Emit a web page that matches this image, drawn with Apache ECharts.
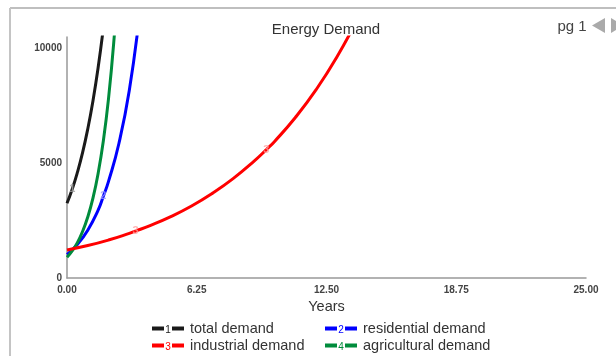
<!DOCTYPE html>
<html>
<head>
<meta charset="utf-8">
<script src="https://cdn.jsdelivr.net/npm/echarts@6/dist/echarts.min.js"></script>
<style>
html,body{margin:0;padding:0;background:#fff;}
#chart{width:616px;height:356px;}
</style>
</head>
<body>
<div id="chart"></div>
<script>
// ---- data ----
var chartTitle = 'Energy Demand';
var xAxisTitle = 'Years';
var seriesNames = ['total demand', 'residential demand', 'industrial demand', 'agricultural demand'];
var seriesNumbers = ['1', '2', '3', '4'];
var seriesColors = ['#1a1a1a', '#0000ff', '#ff0000', '#008c3c'];
var xTicks = [0, 6.25, 12.5, 18.75, 25];
var yTicks = [0, 5000, 10000];

var totalYears  = [0, 0.25, 0.5, 0.75, 1.0, 1.25, 1.5, 1.75];
var totalDemand = [3250, 3860, 4590, 5450, 6480, 7700, 9150, 10870];

var residentialYears  = [0, 0.5, 1.0, 1.5, 1.75, 2.0, 2.5, 3.0, 3.5];
var residentialDemand = [1020, 1460, 2080, 2950, 3550, 4200, 5850, 8150, 11500];

var industrialYears  = [0, 1, 2, 3, 3.3, 4, 5, 6, 7, 8, 9, 9.6, 10, 11, 12, 13, 14];
var industrialDemand = [1220, 1410, 1650, 1940, 2040, 2280, 2670, 3130, 3680, 4320, 5070, 5580, 5940, 6980, 8190, 9610, 11270];

var agriculturalYears  = [0, 0.25, 0.5, 0.75, 1.0, 1.25, 1.5, 1.75, 2.0, 2.25, 2.5];
var agriculturalDemand = [900, 1180, 1540, 2020, 2650, 3470, 4550, 5960, 7800, 10220, 13390];

// curve number labels: [series index, year]
var curveLabels = [[0, 0.25], [1, 1.75], [2, 3.3], [2, 9.6]];
var labelColors = ['#a0a0a0', '#9a9aff', '#ffa0a0', '#80d0a0'];

var allYears = [totalYears, residentialYears, industrialYears, agriculturalYears];
var allValues = [totalDemand, residentialDemand, industrialDemand, agriculturalDemand];

function pairs(xs, ys) { return xs.map(function (x, i) { return [x, ys[i]]; }); }

var font = 'Liberation Sans, Arial, sans-serif';

var series = seriesNames.map(function (name, si) {
  return {
    name: name,
    type: 'line',
    smooth: true,
    symbol: 'none',
    clip: true,
    data: pairs(allYears[si], allValues[si]),
    lineStyle: { color: seriesColors[si], width: 3 },
    itemStyle: { color: seriesColors[si] },
    z: si === 2 ? 3 : 2
  };
});

// number labels sitting on the curves
series.push({
  name: 'curve numbers',
  type: 'scatter',
  z: 10,
  symbolSize: 1,
  silent: true,
  itemStyle: { color: 'rgba(0,0,0,0)' },
  data: curveLabels.map(function (c) {
    var si = c[0];
    var idx = allYears[si].indexOf(c[1]);
    return {
      value: [c[1], allValues[si][idx]],
      label: { show: true, position: 'inside', formatter: seriesNumbers[si], color: labelColors[si],
        fontSize: 11, fontFamily: font, fontWeight: 'bold' }
    };
  })
});

var chart = echarts.init(document.getElementById('chart'), null, { renderer: 'canvas' });

var graphics = [
  { type: 'line', shape: { x1: 10, y1: 8, x2: 616, y2: 8 }, style: { stroke: '#aaaaaa', lineWidth: 1.5 } },
  { type: 'line', shape: { x1: 10, y1: 8, x2: 10, y2: 356 }, style: { stroke: '#c4c4c4', lineWidth: 2 } },
  { type: 'text', x: 326, y: 29.5, style: { text: chartTitle, font: '15px ' + font, fill: '#333', textAlign: 'center', textVerticalAlign: 'middle' } },
  { type: 'text', x: 572, y: 27, style: { text: 'pg 1', font: '15px ' + font, fill: '#444', textAlign: 'center', textVerticalAlign: 'middle' } },
  { type: 'polygon', shape: { points: [[592, 25.5], [605, 18], [605, 33]] }, style: { fill: '#aaaaaa' } },
  { type: 'polygon', shape: { points: [[611, 18], [624, 25.5], [611, 33]] }, style: { fill: '#aaaaaa' } }
];

// legend layout: [name index, left, centre y]
var legendSlots = [[0, 152, 327], [1, 325, 327], [2, 152, 344], [3, 325, 344]];
var legendIcon = 'path://M0,0H12V4H0Z M20,0H32V4H20Z';
var legends = legendSlots.map(function (s) {
  return {
    data: [seriesNames[s[0]]], left: s[1], top: s[2] - 6, padding: 0,
    itemWidth: 32, itemHeight: 4, icon: legendIcon, selectedMode: false, itemGap: 0,
    textStyle: { fontFamily: font, fontSize: 14.5, color: '#333', padding: [0, 0, 0, 1] }
  };
});
legendSlots.forEach(function (s) {
  graphics.push({ type: 'text', x: s[1] + 16, y: s[2] + 3,
    style: { text: seriesNumbers[s[0]], fill: seriesColors[s[0]], font: '10px ' + font, textAlign: 'center', textVerticalAlign: 'middle' } });
});

chart.setOption({
  animation: false,
  backgroundColor: '#fff',
  grid: { left: 67, right: 30, top: 37, bottom: 78 },
  legend: legends,
  xAxis: {
    type: 'value', min: 0, max: 25, interval: 6.25,
    name: xAxisTitle, nameLocation: 'middle', nameGap: 21,
    nameTextStyle: { fontFamily: font, fontSize: 14.5, color: '#333' },
    axisLine: { lineStyle: { color: '#999', width: 1.5 } },
    axisTick: { show: false },
    splitLine: { show: false },
    axisLabel: { fontFamily: font, fontSize: 10, color: '#444', fontWeight: 'bold', margin: 7,
      formatter: function (v) { return xTicks.indexOf(v) >= 0 ? v.toFixed(2) : ''; } }
  },
  yAxis: {
    type: 'value', min: 0, max: 10480, interval: 5000,
    axisLine: { show: true, lineStyle: { color: '#999', width: 1.5 } },
    axisTick: { show: false },
    splitLine: { show: false },
    axisLabel: { fontFamily: font, fontSize: 10, color: '#444', fontWeight: 'bold', margin: 5, padding: [0, 0, 3, 0],
      formatter: function (v) { return yTicks.indexOf(v) >= 0 ? String(v) : ''; } }
  },
  graphic: graphics,
  series: series
});
</script>
</body>
</html>
